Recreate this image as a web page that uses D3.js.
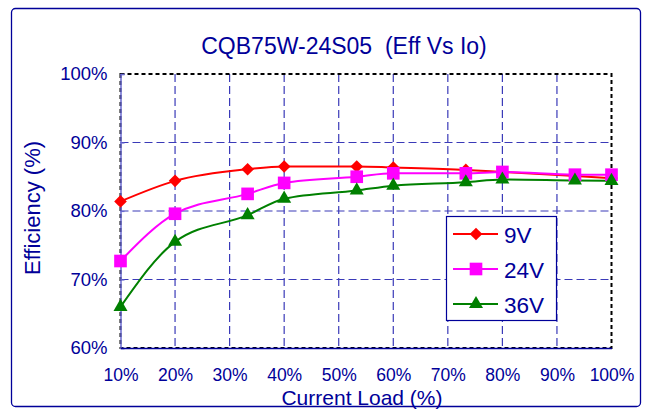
<!DOCTYPE html>
<html><head><meta charset="utf-8">
<script src="https://cdn.jsdelivr.net/npm/d3@7"></script>
<style>body{margin:0;background:#fff}svg{display:block}</style>
</head><body>
<svg id="c" width="648" height="417"></svg>
<script>
const loads = [10, 20, 33.3, 40, 53.3, 60, 73.3, 80, 93.3, 100];
const eff9V  = [81.4, 84.4, 86.1, 86.5, 86.5, 86.35, 86.0, 85.7, 85.1, 84.8];
const eff24V = [72.7, 79.6, 82.5, 84.1, 85.0, 85.5, 85.5, 85.7, 85.3, 85.3];
const eff36V = [66.0, 75.5, 79.4, 81.8, 83.0, 83.7, 84.2, 84.6, 84.45, 84.4];
const xTicks = [10, 20, 30, 40, 50, 60, 70, 80, 90, 100];
const yTicks = [60, 70, 80, 90, 100];
const seriesNames = ["9V", "24V", "36V"];

const svg = d3.select("#c");
const blue = "#000099";
const font = "Liberation Sans, Arial, sans-serif";
const L = 120.5, R = 611.5, T = 74, B = 348;
const x = d3.scaleLinear().domain([10, 100]).range([L, R]);
const y = d3.scaleLinear().domain([60, 100]).range([B, T]);

// outer frame
svg.append("rect").attr("x", 11.5).attr("y", 8.5).attr("width", 629).attr("height", 398)
  .attr("rx", 4).attr("fill", "#fff").attr("stroke", blue).attr("stroke-width", 1.3);

// title
svg.append("text").attr("x", 344).attr("y", 54).attr("text-anchor", "middle")
  .attr("font-family", font).attr("font-size", 23).attr("fill", blue)
  .attr("xml:space", "preserve").style("white-space", "pre")
  .text("CQB75W-24S05  (Eff Vs Io)");

// gridlines
const grid = svg.append("g").attr("stroke", "#3a3ab8").attr("stroke-width", 1.2).attr("stroke-dasharray", "8,4");
xTicks.filter(t => t > 10 && t < 100).forEach(t => {
  grid.append("line").attr("x1", x(t)).attr("x2", x(t)).attr("y1", T).attr("y2", B);
});
yTicks.filter(t => t > 60 && t < 100).forEach(t => {
  grid.append("line").attr("x1", L).attr("x2", R).attr("y1", y(t)).attr("y2", y(t));
});

// plot border (black dashed)
svg.append("rect").attr("x", L).attr("y", T).attr("width", R - L).attr("height", B - T)
  .attr("fill", "none").attr("stroke", "#000").attr("stroke-width", 2).attr("stroke-dasharray", "4,3");

// axes
const yAxis = d3.axisLeft(y).tickValues(yTicks).tickSize(-4).tickFormat(d => d + "%").tickPadding(13);
const gy = svg.append("g").attr("transform", `translate(${L},0)`).call(yAxis);
gy.select(".domain").attr("stroke", "#6a6ad0").attr("stroke-width", 1.5);
gy.selectAll(".tick line").attr("stroke", "#6a6ad0").attr("stroke-width", 1.2);
gy.selectAll("text").attr("font-family", font).attr("font-size", 18.5).attr("fill", blue);

const xAxis = d3.axisBottom(x).tickValues(xTicks).tickSize(0).tickFormat(d => d + "%").tickPadding(21);
const gx = svg.append("g").attr("transform", `translate(0,${B})`).call(xAxis);
gx.select(".domain").attr("stroke", blue).attr("stroke-width", 1.5);
gx.selectAll("text").attr("font-family", font).attr("font-size", 17.5).attr("fill", blue);

// axis titles
svg.append("text").attr("x", 362).attr("y", 405).attr("text-anchor", "middle")
  .attr("font-family", font).attr("font-size", 21).attr("fill", blue).text("Current Load (%)");
svg.append("text").attr("transform", "translate(40,208) rotate(-90)").attr("text-anchor", "middle")
  .attr("font-family", font).attr("font-size", 22).attr("fill", blue).text("Efficiency (%)");

// series
const series = [
  {name: seriesNames[0], vals: eff9V,  color: "#ff0000", sym: d3.symbolSquare, size: 80, rot: 45},
  {name: seriesNames[1], vals: eff24V, color: "#ff00ff", sym: d3.symbolSquare, size: 160, rot: 0},
  {name: seriesNames[2], vals: eff36V, color: "#008000", sym: d3.symbolTriangle, size: 85, rot: 0}
];
const line = d3.line().x(d => x(d[0])).y(d => y(d[1])).curve(d3.curveMonotoneX);
series.forEach(s => {
  const pts = loads.map((l, i) => [l, s.vals[i]]);
  svg.append("path").datum(pts).attr("d", line).attr("fill", "none")
    .attr("stroke", s.color).attr("stroke-width", 2);
});
series.forEach(s => {
  const pts = loads.map((l, i) => [l, s.vals[i]]);
  svg.append("g").selectAll("path").data(pts).join("path")
    .attr("d", d3.symbol().type(s.sym).size(s.size))
    .attr("transform", d => `translate(${x(d[0])},${y(d[1])}) rotate(${s.rot})`)
    .attr("fill", s.color);
});

// legend
const lg = svg.append("g");
lg.append("rect").attr("x", 446.5).attr("y", 216.5).attr("width", 110).attr("height", 104)
  .attr("fill", "#fff").attr("stroke", blue).attr("stroke-width", 1.2);
series.forEach((s, i) => {
  const cy = 234 + i * 35;
  lg.append("line").attr("x1", 453).attr("x2", 498).attr("y1", cy).attr("y2", cy)
    .attr("stroke", s.color).attr("stroke-width", 2);
  lg.append("path").attr("d", d3.symbol().type(s.sym).size(s.size)())
    .attr("transform", `translate(476,${cy}) rotate(${s.rot})`).attr("fill", s.color);
  lg.append("text").attr("x", 504).attr("y", cy + 8.5).attr("font-family", font)
    .attr("font-size", 22.5).attr("fill", blue).text(s.name);
});
</script>
</body></html>
